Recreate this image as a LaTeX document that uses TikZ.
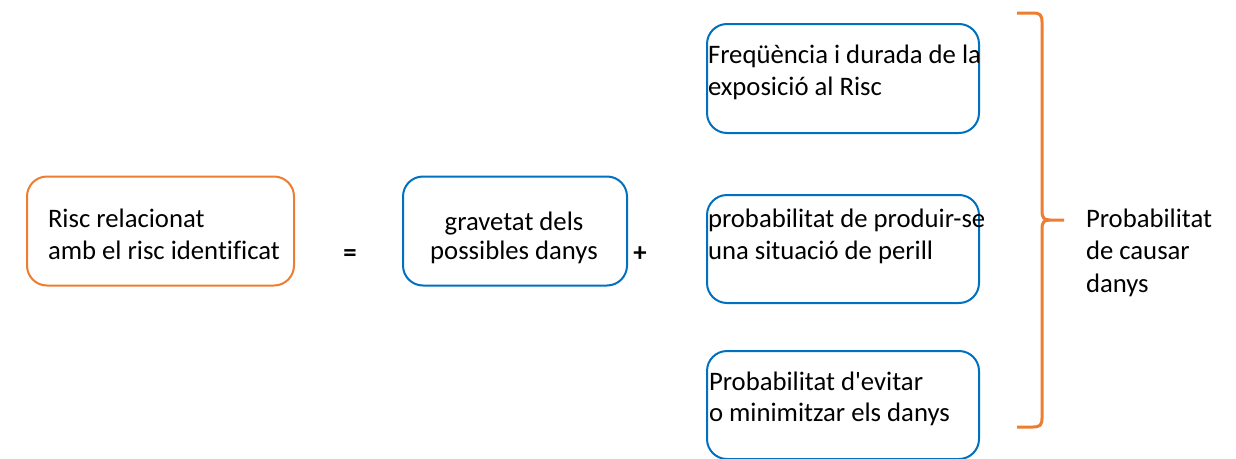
\documentclass[tikz,border=0pt]{standalone}
\usepackage{fontspec}
\setmainfont{Carlito}[Ligatures={NoCommon}]
\definecolor{borange}{HTML}{ED7D31}
\definecolor{bblue}{HTML}{0070C0}
\begin{document}
\begin{tikzpicture}[x=1pt,y=-1pt,
  every node/.style={font=\fontsize{26.7}{32}\selectfont, inner sep=0pt, outer sep=0pt},
  obox/.style={draw=borange, line width=2pt, rounded corners=20pt, rectangle},
  bbox/.style={draw=bblue, line width=2pt, rounded corners=20pt, rectangle},
  ltext/.style={anchor=base west},
  ctext/.style={anchor=base},
  brace/.style={draw=borange, line width=3pt}]
\useasboundingbox (0,0) rectangle (1236,458);

% boxes
\node[obox, minimum width=267pt, minimum height=109pt] (risk) at (160.5,231) {};
\node[bbox, minimum width=224pt, minimum height=109pt] (grav) at (515,231) {};
\node[bbox, minimum width=272pt, minimum height=109pt] (freq) at (843,78.5) {};
\node[bbox, minimum width=272pt, minimum height=108pt] (prob) at (843,249) {};
\node[bbox, minimum width=272pt, minimum height=108pt] (evit) at (843,405) {};

% texts
\node[ltext] (risk1) at (48,227) {Risc relacionat};
\node[ltext] (risk2) at (48,259) {amb el risc identificat};
\node[ctext] (eq) at (350,261) {\textbf{=}};
\node[ctext] (grav1) at (514,230) {gravetat dels};
\node[ctext] (grav2) at (514,259) {possibles danys};
\node[ctext] (plus) at (640,261) {\textbf{+}};
\node[ltext] (freq1) at (708,63) {Freqüència i durada de la};
\node[ltext] (freq2) at (708,95) {exposició al Risc};
\node[ltext] (prob1) at (708,227) {probabilitat de produir-se};
\node[ltext] (prob2) at (708,259) {una situació de perill};
\node[ltext] (evit1) at (709,390) {Probabilitat d\textquotesingle evitar};
\node[ltext] (evit2) at (709,421) {o minimitzar els danys};
\node[ltext] (caus1) at (1086,227) {Probabilitat};
\node[ltext] (caus2) at (1086,259) {de causar};
\node[ltext] (caus3) at (1086,292) {danys};

% brace
\coordinate (btop) at (1017,13);
\coordinate (btip) at (1064,220);
\coordinate (bbot) at (1017,427);
\draw[brace] (btop) -- (1033,13) .. controls (1040,13) and (1042,15) .. (1042,22)
  -- (1042,211) .. controls (1042,218) and (1044,220) .. (1050,220) -- (btip);
\draw[brace] (1050,220) .. controls (1044,220) and (1042,222) .. (1042,229)
  -- (1042,418) .. controls (1042,425) and (1040,427) .. (1033,427) -- (bbot);
\end{tikzpicture}
\end{document}
